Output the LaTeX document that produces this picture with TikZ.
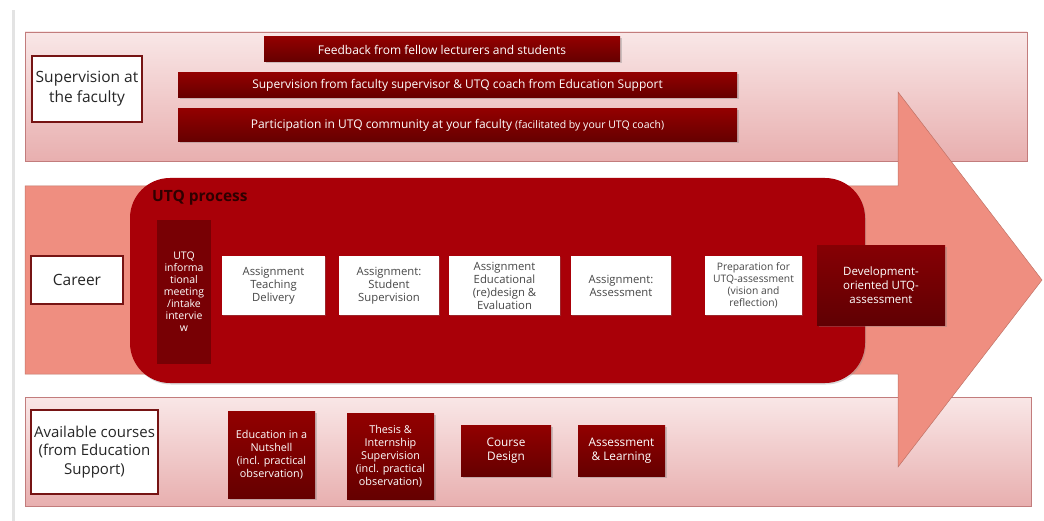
\documentclass[tikz,border=0pt]{standalone}
\usepackage{fontspec}
\setmainfont{Open Sans}
\usetikzlibrary{
	positioning,
	shadows,
	shapes
}
\definecolor{BandTop}{HTML}{F9E7E7}
\definecolor{BandBot}{HTML}{E8AFAF}
\definecolor{BandLine}{HTML}{C27C7C}
\definecolor{ArrowRed}{HTML}{EF8E80}
\definecolor{ProcRed}{HTML}{A90008}
\definecolor{DeepRed}{HTML}{780004}
\definecolor{BarTop}{HTML}{920000}
\definecolor{BarBot}{HTML}{650000}
\definecolor{FrameRed}{HTML}{761414}
\definecolor{TitleInk}{HTML}{2E0000}

\begin{document}
\begin{tikzpicture}[
			x=1pt, y=-1pt,
			BandStyle/.style={draw=BandLine, line width=0.8pt, top color=BandTop, bottom color=BandBot},
			FrameStyle/.style={draw=FrameRed, line width=1.8pt, fill=white, inner sep=0pt, align=center,
				text=black!85, font=\fontsize{15.5}{20}\selectfont},
			BarStyle/.style={top color=BarTop, bottom color=BarBot, text=white, inner sep=0pt,
				font=\fontsize{12}{14}\selectfont,
				drop shadow={opacity=0.35, shadow xshift=1.5pt, shadow yshift=-1.5pt}},
			StepStyle/.style={fill=white, inner sep=0pt, align=center, text=black!72,
				font=\fontsize{11.3}{13}\selectfont,
				drop shadow={opacity=0.3, shadow xshift=1pt, shadow yshift=-1pt}},
			CourseStyle/.style={top color=BarTop, bottom color=BarBot, text=white, inner sep=0pt, align=center,
				font=\fontsize{10.8}{13}\selectfont,
				drop shadow={opacity=0.35, shadow xshift=1.5pt, shadow yshift=-1.5pt}}]
			\useasboundingbox (0,0) rectangle (1044,521);
			\fill[gray!22] (12,10) rectangle (15,521);
			% bands and arrow
			\draw[BandStyle] (25,32) rectangle (1027,161);
			\draw[BandStyle] (25,397) rectangle (1031,506);
			\draw[fill=ArrowRed, draw=ArrowRed!80!black, line width=0.5pt]
				(25,186) -- (898,186) -- (898,92) -- (1042,280) -- (898,467) -- (898,374) -- (25,374) -- cycle;
			\fill[ProcRed, rounded corners=40pt, drop shadow={opacity=0.3, shadow xshift=1pt, shadow yshift=-1.5pt}]
				(130,178) rectangle (865,383);
			\node[anchor=west, inner sep=0pt, text=TitleInk, font=\fontsize{15.5}{18}\selectfont\bfseries]
				(title) at (152,197.5) {UTQ process};
			% supervision at the faculty
			\node[FrameStyle, minimum width=110pt, minimum height=66pt] (faculty) at (87,89)
				{Supervision at\\the faculty};
			\node[BarStyle, minimum width=356pt, minimum height=25pt] (feedback) at (442,49.5)
				{Feedback from fellow lecturers and students};
			\node[BarStyle, minimum width=559pt, minimum height=25pt] (coach) at (457.5,85.5)
				{Supervision from faculty supervisor \& UTQ coach from Education Support};
			\node[BarStyle, minimum width=559pt, minimum height=33pt] (community) at (457.5,125.5)
				{Participation in UTQ community at your faculty {\fontsize{10.5}{12}\selectfont(facilitated by your UTQ coach)}};
			% career
			\node[FrameStyle, minimum width=92pt, minimum height=48pt] (career) at (77,280) {Career};
			\node[fill=DeepRed, text=white, inner sep=0pt, align=center, minimum width=54pt, minimum height=144pt,
				font=\fontsize{10.5}{12}\selectfont] (intake) at (184,292)
				{UTQ\\informa\\tional\\meeting\\/intake\\intervie\\w};
			\node[StepStyle, minimum width=103pt, minimum height=59pt] (teaching) at (273.5,285.5)
				{Assignment\\Teaching\\Delivery};
			\node[StepStyle, minimum width=100pt, minimum height=59pt] (students) at (389,285.5)
				{Assignment:\\Student\\Supervision};
			\node[StepStyle, minimum width=111pt, minimum height=59pt] (redesign) at (504.5,285.5)
				{Assignment\\Educational\\(re)design \&\\Evaluation};
			\node[StepStyle, minimum width=100pt, minimum height=59pt] (assessing) at (621,285.5)
				{Assignment:\\Assessment};
			\node[StepStyle, minimum width=97pt, minimum height=59pt, font=\fontsize{10.3}{12}\selectfont]
				(preparation) at (753.5,285.5)
				{Preparation for\\UTQ-assessment\\(vision and\\reflection)};
			\node[CourseStyle, top color=DeepRed!90!red, bottom color=DeepRed!80!black, minimum width=128pt,
				minimum height=79pt, font=\fontsize{11.5}{14}\selectfont] (final) at (881,285.5)
				{Development-\\oriented UTQ-\\assessment};
			% available courses
			\node[FrameStyle, minimum width=127pt, minimum height=84pt, font=\fontsize{15}{18.5}\selectfont]
				(courses) at (94.5,452)
				{Available courses\\(from Education\\Support)};
			\node[CourseStyle, minimum width=87pt, minimum height=87pt] (nutshell) at (271.5,454.5)
				{Education in a\\Nutshell\\(incl. practical\\observation)};
			\node[CourseStyle, minimum width=87pt, minimum height=86pt] (thesis) at (390.5,456)
				{Thesis \&\\Internship\\Supervision\\(incl. practical\\observation)};
			\node[CourseStyle, minimum width=90pt, minimum height=51pt, font=\fontsize{11.8}{14}\selectfont]
				(design) at (506,450.5) {Course\\Design};
			\node[CourseStyle, minimum width=87pt, minimum height=51pt, font=\fontsize{11.8}{14}\selectfont]
				(learning) at (621.5,450.5) {Assessment\\\& Learning};
		\end{tikzpicture}
\end{document}
